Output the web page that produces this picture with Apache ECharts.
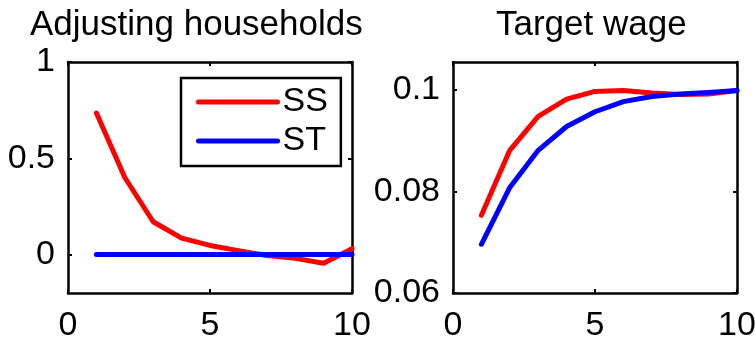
<!DOCTYPE html>
<html>
<head>
<meta charset="utf-8">
<script src="https://cdn.jsdelivr.net/npm/echarts@6/dist/echarts.min.js"></script>
<style>html,body{margin:0;padding:0;background:#fff}#c{width:755px;height:338px}</style>
</head>
<body>
<div id="c"></div>
<script>
const periods = [1, 2, 3, 4, 5, 6, 7, 8, 9, 10];
const xTicks = [0, 5, 10];
const adjYTicks = [0, 0.5, 1];
const wageYTicks = [0.06, 0.08, 0.1];
const adjSS = [0.735, 0.40, 0.17, 0.085, 0.047, 0.02, -0.005, -0.02, -0.045, 0.03];
const adjST = [0, 0, 0, 0, 0, 0, 0, 0, 0, 0];
const wageSS = [0.0753, 0.0881, 0.0948, 0.0982, 0.0997, 0.0999, 0.0994, 0.0991, 0.0992, 0.0999];
const wageST = [0.0696, 0.0808, 0.0881, 0.0928, 0.0957, 0.0977, 0.0987, 0.0992, 0.0995, 0.0999];
const titles = ['Adjusting households', 'Target wage'];
const seriesNames = ['SS', 'ST'];

const FONT = 'Liberation Sans, Arial, sans-serif';
const FS = 34;
const pair = arr => periods.map((p, i) => [p, arr[i]]);

function xAxes(gi) {
  const base = {
    type: 'value', gridIndex: gi, min: 0, max: 10,
    splitLine: { show: false },
    axisLine: { show: true, onZero: false, lineStyle: { color: '#000', width: 2.5 } },
    axisTick: { show: true, inside: true, length: 4, lineStyle: { color: '#000', width: 2 }, customValues: xTicks }
  };
  return [
    Object.assign({}, base, { position: 'bottom',
      axisLabel: { show: true, customValues: xTicks, color: '#000', fontFamily: FONT, fontSize: FS, margin: 16 } }),
    Object.assign({}, base, { position: 'top', axisLabel: { show: false } })
  ];
}
function yAxes(gi, min, max, ticks) {
  const base = {
    type: 'value', gridIndex: gi, min: min, max: max,
    splitLine: { show: false },
    axisLine: { show: true, onZero: false, lineStyle: { color: '#000', width: 2.5 } },
    axisTick: { show: true, inside: true, length: 4, lineStyle: { color: '#000', width: 2 }, customValues: ticks }
  };
  return [
    Object.assign({}, base, { position: 'left',
      axisLabel: { show: true, customValues: ticks, color: '#000', fontFamily: FONT, fontSize: FS, margin: 13,
        formatter: v => String(+v.toFixed(4)) } }),
    Object.assign({}, base, { position: 'right', axisLabel: { show: false } })
  ];
}
function line(name, data, color, xi, yi) {
  return {
    type: 'line', name: name, data: data, xAxisIndex: xi, yAxisIndex: yi,
    symbol: 'none', showSymbol: false, animation: false, clip: true,
    lineStyle: { color: color, width: 5, cap: 'round', join: 'round' },
    itemStyle: { color: color }
  };
}

const chart = echarts.init(document.getElementById('c'), null, { renderer: 'canvas' });
chart.setOption({
  animation: false,
  backgroundColor: '#fff',
  title: [
    { text: titles[0], left: 30, top: 8, textStyle: { fontFamily: FONT, fontSize: 35, fontWeight: 'normal', color: '#000' }, padding: 0 },
    { text: titles[1], left: 496, top: 8, textStyle: { fontFamily: FONT, fontSize: 35, fontWeight: 'normal', color: '#000' }, padding: 0 }
  ],
  grid: [
    { left: 68, top: 62, width: 284, height: 231, containLabel: false, outerBoundsMode: 'none' },
    { left: 453, top: 62, width: 284, height: 231, containLabel: false, outerBoundsMode: 'none' }
  ],
  xAxis: xAxes(0).concat(xAxes(1)),
  yAxis: yAxes(0, -0.2, 1, adjYTicks).concat(yAxes(1, 0.06, 0.1055, wageYTicks)),
  legend: {
    data: seriesNames,
    orient: 'vertical',
    left: 181, top: 78,
    width: 157,
    padding: [7, 13, 8, 15],
    itemGap: 5,
    itemWidth: 79, itemHeight: 28,
    borderColor: '#000', borderWidth: 2.5, backgroundColor: '#fff',
    selectedMode: false,
    itemStyle: { opacity: 0 },
    lineStyle: { width: 5, cap: 'round' },
    textStyle: { fontFamily: FONT, fontSize: 34, color: '#000', lineHeight: 34 }
  },
  series: [
    line(seriesNames[0], pair(adjSS), '#ff0000', 0, 0),
    line(seriesNames[1], pair(adjST), '#0000ff', 0, 0),
    line(seriesNames[0], pair(wageSS), '#ff0000', 2, 2),
    line(seriesNames[1], pair(wageST), '#0000ff', 2, 2)
  ]
});
</script>
</body>
</html>
